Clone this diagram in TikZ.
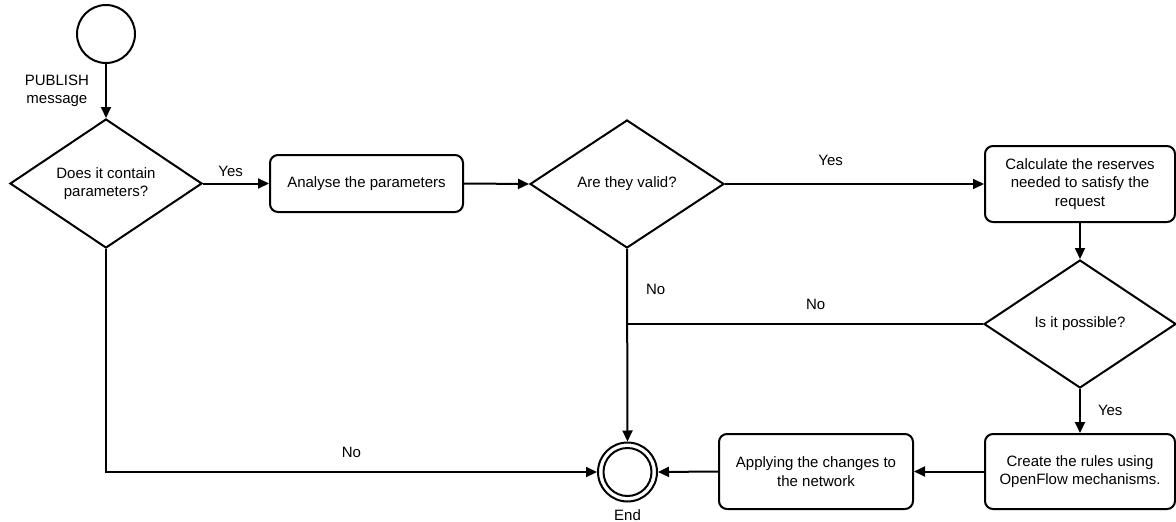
\documentclass[tikz,border=0pt]{standalone}
\usepackage{fontspec}
\setmainfont{Liberation Sans}
\usetikzlibrary{shapes.geometric,arrows.meta}

\tikzset{
  flow/.style={line width=2pt, draw=black},
  arr/.style={flow, -{Triangle[length=11pt,width=10pt]}},
  stepbox/.style={flow, rectangle, rounded corners=8pt, align=center, inner sep=0pt},
  decision/.style={flow, diamond, align=center, inner sep=0pt, aspect=1.5},
  terminal/.style={flow, circle, inner sep=0pt},
  lbl/.style={inner sep=0pt, align=center}
}

\begin{document}
\begin{tikzpicture}[x=1pt, y=-1pt, font=\fontsize{15}{18.5}\selectfont]
  \useasboundingbox (0,0) rectangle (1176,522);

  % start event and decisions / tasks
  \node[terminal, minimum size=58pt] (start) at (106,34) {};
  \node[decision, minimum width=192pt, minimum height=129pt] (d1) at (106,183.5)
    {Does it contain\\parameters?};
  \node[stepbox, minimum width=193pt, minimum height=57pt] (b1) at (366.5,183.5)
    {Analyse the parameters};
  \node[decision, minimum width=194pt, minimum height=128pt] (d2) at (627,184)
    {Are they valid?};
  \node[stepbox, minimum width=190pt, minimum height=76pt] (b2) at (1080,184)
    {Calculate the reserves\\needed to satisfy the\\request};
  \node[decision, minimum width=192pt, minimum height=128pt] (d3) at (1080,324)
    {Is it possible?};
  \node[stepbox, minimum width=190pt, minimum height=75pt] (b3) at (1080,471.5)
    {Create the rules using\\OpenFlow mechanisms.};
  \node[stepbox, minimum width=194pt, minimum height=75pt] (b4) at (816,471.5)
    {Applying the changes to\\the network};

  % end event (double circle)
  \node[terminal, minimum size=59pt] (endc) at (627.5,472) {};
  \node[terminal, minimum size=48pt] (endin) at (endc) {};
  \node[lbl, below=7pt] (endlbl) at (endc.south) {End};

  % junction where the two "No" branches meet
  \coordinate (join) at (d2.south |- d3.west);

  % connectors
  \draw[arr] (start) -- node[lbl, anchor=east, xshift=-16pt] {PUBLISH\\message} (d1.north);
  \draw[arr] (d1.east) -- node[lbl, pos=0.42, above=6pt] {Yes} (b1.west);
  \draw[arr] (b1.east) -- (d2.west);
  \draw[arr] (d2.east) -- node[lbl, pos=0.408, above=17pt] {Yes} (b2.west);
  \draw[arr] (b2.south) -- (d3.north);
  \draw[flow] (d3.west) -- node[lbl, pos=0.47, above=13pt] {No} (join);
  \draw[arr] (d2.south) -- node[lbl, pos=0.21, anchor=west, xshift=18pt] {No} (endc.north);
  \draw[arr] (d3.south) -- node[lbl, pos=0.48, anchor=west, xshift=17pt] {Yes} (b3.north);
  \draw[arr] (b3.west) -- (b4.east);
  \draw[arr] (b4.west) -- (endc.east);
  \draw[arr] (d1.south) |- node[lbl, pos=0.75, above=13pt] {No} (endc.west);
\end{tikzpicture}
\end{document}
